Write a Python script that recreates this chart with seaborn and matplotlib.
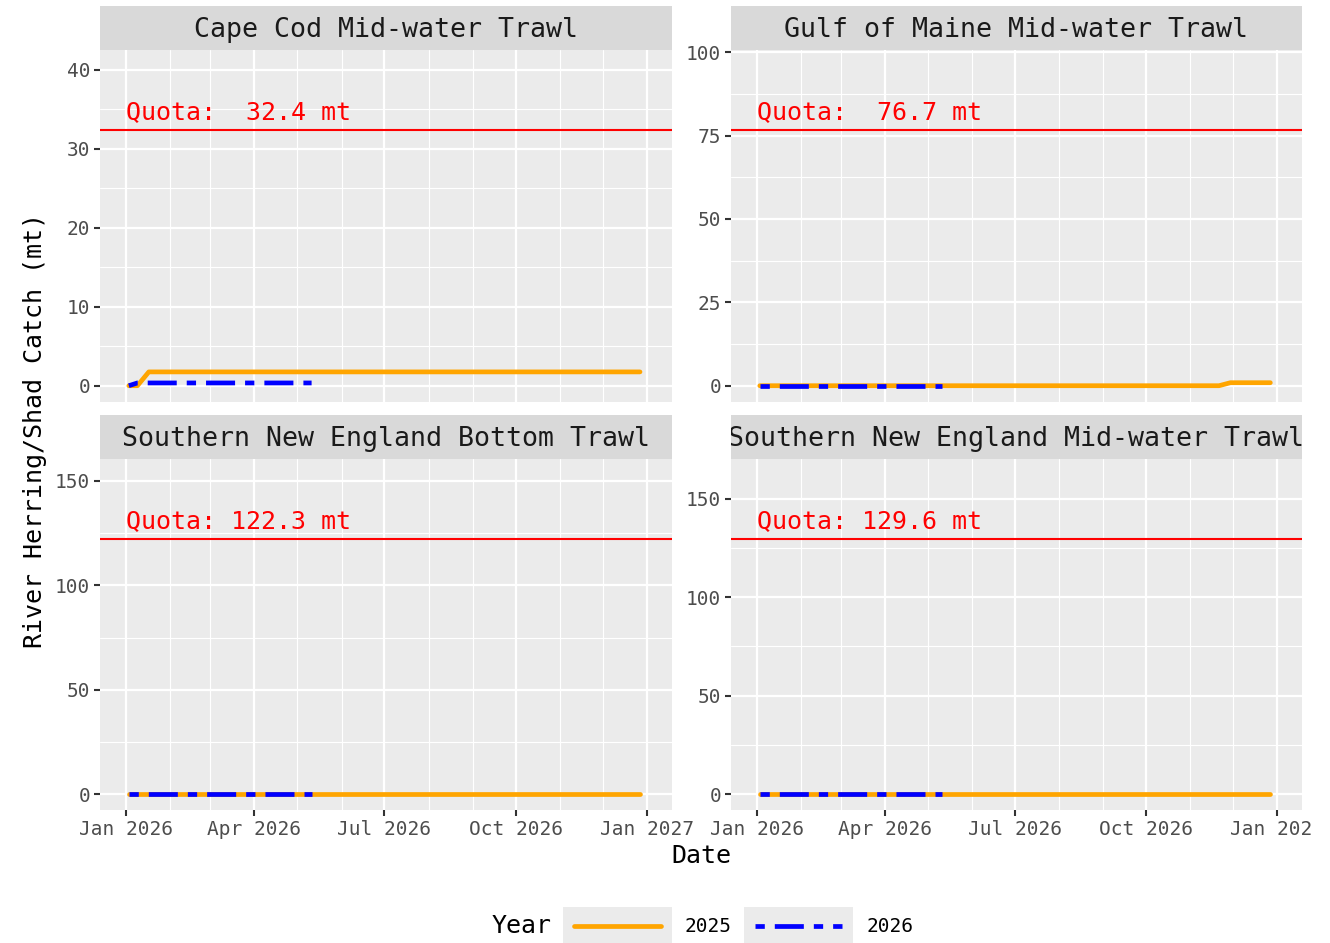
import pandas as pd
import matplotlib
matplotlib.use("Agg")
import matplotlib.pyplot as plt
import matplotlib.dates as mdates
from matplotlib.ticker import AutoMinorLocator
from matplotlib.transforms import Bbox, TransformedBbox
import seaborn as sns

# ============================================
# DATA
# ============================================
fleets = [
    "Cape Cod Mid-water Trawl",
    "Gulf of Maine Mid-water Trawl",
    "Southern New England Bottom Trawl",
    "Southern New England Mid-water Trawl",
]
quotas = [32.4, 76.7, 122.3, 129.6]

y_ticks = [[0, 10, 20, 30, 40], [0, 25, 50, 75, 100], [0, 50, 100, 150], [0, 50, 100, 150]]
x_ticks = ["2026-01-01", "2026-04-01", "2026-07-01", "2026-10-01", "2027-01-01"]
x_tick_labels = ["Jan 2026", "Apr 2026", "Jul 2026", "Oct 2026", "Jan 2027"]
x_range = ["2026-01-01", "2026-12-31"]

# cumulative catch (mt), both years drawn on the 2026 calendar
cc_2025_dates = ["2026-01-03", "2026-01-09", "2026-01-17", "2026-12-27"]
cc_2025_catch = [0, 0, 1.75, 1.75]
cc_2026_dates = ["2026-01-03", "2026-01-09", "2026-05-11"]
cc_2026_catch = [0, 0.35, 0.35]

gom_2025_dates = ["2026-01-03", "2026-11-21", "2026-11-29", "2026-12-27"]
gom_2025_catch = [0, 0, 0.9, 0.9]
gom_2026_dates = ["2026-01-03", "2026-05-11"]
gom_2026_catch = [0, 0]

snebt_2025_dates = ["2026-01-03", "2026-12-27"]
snebt_2025_catch = [0, 0]
snebt_2026_dates = ["2026-01-03", "2026-05-11"]
snebt_2026_catch = [0, 0]

snemwt_2025_dates = ["2026-01-03", "2026-12-27"]
snemwt_2025_catch = [0, 0]
snemwt_2026_dates = ["2026-01-03", "2026-05-11"]
snemwt_2026_catch = [0, 0]


def frame(dates, catch, year, fleet):
    return pd.DataFrame({"Date": pd.to_datetime(dates), "Catch": catch,
                         "Year": year, "Fleet": fleet})


df = pd.concat([
    frame(cc_2025_dates, cc_2025_catch, "2025", fleets[0]),
    frame(cc_2026_dates, cc_2026_catch, "2026", fleets[0]),
    frame(gom_2025_dates, gom_2025_catch, "2025", fleets[1]),
    frame(gom_2026_dates, gom_2026_catch, "2026", fleets[1]),
    frame(snebt_2025_dates, snebt_2025_catch, "2025", fleets[2]),
    frame(snebt_2026_dates, snebt_2026_catch, "2026", fleets[2]),
    frame(snemwt_2025_dates, snemwt_2025_catch, "2025", fleets[3]),
    frame(snemwt_2026_dates, snemwt_2026_catch, "2026", fleets[3]),
], ignore_index=True)

# ============================================
# STYLE
# ============================================
sns.set_theme(style="darkgrid", rc={"axes.facecolor": "#EBEBEB", "grid.color": "white"})
plt.rcParams["font.family"] = ["DejaVu Sans Mono"]
plt.rcParams["lines.scale_dashes"] = False

palette = {"2025": "#FFA500", "2026": "#0000FF"}
DASH = (6.7, 7.2, 20.9, 7.2)
dashes = {"2025": "", "2026": DASH}
LW = 3.4

W, H = 1330, 943
fig = plt.figure(figsize=(W / 100, H / 100), dpi=100)


def rect(left, top, right, bottom):
    return [left / W, 1 - bottom / H, (right - left) / W, (bottom - top) / H]


panels = [(100, 50, 671.7, 401.7), (731, 50, 1302, 401.7),
          (100, 459, 671.7, 810), (731, 459, 1302, 810)]
STRIP = 44

d0, d1 = mdates.date2num(pd.to_datetime(x_range))
pad = 0.05 * (d1 - d0)

# ============================================
# PANELS
# ============================================
for i, fleet in enumerate(fleets):
    l, t, r, b = panels[i]
    ax = fig.add_axes(rect(l, t, r, b))
    sub = df[df["Fleet"] == fleet]

    sns.lineplot(data=sub, x="Date", y="Catch", hue="Year", style="Year",
                 hue_order=["2025", "2026"], style_order=["2025", "2026"],
                 palette=palette, dashes=dashes, linewidth=LW,
                 estimator=None, legend=False, ax=ax)

    q = quotas[i]
    ax.axhline(q, color="#FF0000", lw=1.5)
    ax.annotate(f"Quota: {q:5.1f} mt", xy=(d0, q), xytext=(0, 7.8),
                textcoords="offset points", color="#FF0000", fontsize=18,
                ha="left", va="baseline")

    top = q * 1.25
    ax.set_ylim(-0.05 * top, 1.05 * top)
    ax.set_xlim(d0 - pad, d1 + pad)

    ax.set_yticks(y_ticks[i])
    ax.yaxis.set_minor_locator(AutoMinorLocator(2))
    ax.set_xticks(mdates.date2num(pd.to_datetime(x_ticks)))
    ax.set_xticklabels(x_tick_labels)
    ax.xaxis.set_minor_locator(mdates.MonthLocator())

    ax.grid(which="major", color="white", lw=1.6)
    ax.grid(which="minor", color="white", lw=0.8)
    ax.tick_params(which="major", length=4, width=1.5, color="#333333",
                   labelsize=14, labelcolor="#4D4D4D", pad=3,
                   bottom=True, left=True)
    ax.tick_params(which="minor", length=0)
    for s in ax.spines.values():
        s.set_visible(False)
    ax.set_xlabel("")
    ax.set_ylabel("")

    if i < 2:
        ax.tick_params(axis="x", which="both", bottom=False, labelbottom=False)
    if i == 3:
        clip = TransformedBbox(Bbox([[0, 0], [1313 / W, 1]]), fig.transFigure)
        for lbl in ax.get_xticklabels():
            lbl.set_clip_on(True)
            lbl.set_clip_box(clip)

    # facet strip
    sax = fig.add_axes(rect(l, t - STRIP, r, t))
    sax.set_facecolor("#D9D9D9")
    sax.set_xticks([])
    sax.set_yticks([])
    sax.grid(False)
    for s in sax.spines.values():
        s.set_visible(False)
    txt = sax.text(0.5, 0.45, fleet, transform=sax.transAxes, ha="center",
                   va="center", fontsize=19.2, color="#1A1A1A", clip_on=True)
    txt.set_clip_path(sax.patch)

# ============================================
# AXIS TITLES
# ============================================
fig.text(701 / W, 1 - 856 / H, "Date", ha="center", va="center", fontsize=18, color="black")
fig.text(35 / W, 1 - 431 / H, "River Herring/Shad Catch (mt)", ha="center", va="center",
         rotation=90, fontsize=18, color="black")

# ============================================
# LEGEND
# ============================================
fig.text(492 / W, 1 - 926 / H, "Year", ha="left", va="center", fontsize=18, color="black")
for year, (kl, kr) in zip(["2025", "2026"], [(563, 672), (744, 853)]):
    kax = fig.add_axes(rect(kl, 907, kr, 945))
    kax.set_facecolor("#EBEBEB")
    kax.set_xlim(0, 1)
    kax.set_ylim(0, 1)
    kax.plot([0.1, 0.9], [0.5, 0.5], color=palette[year], lw=LW,
             dashes=DASH if year == "2026" else (None, None),
             linestyle="-")
    kax.set_xticks([])
    kax.set_yticks([])
    kax.grid(False)
    for s in kax.spines.values():
        s.set_visible(False)
    fig.text((kr + 13) / W, 1 - 926 / H, year, ha="left", va="center", fontsize=14, color="black")

fig.savefig("out.png", dpi=100)
